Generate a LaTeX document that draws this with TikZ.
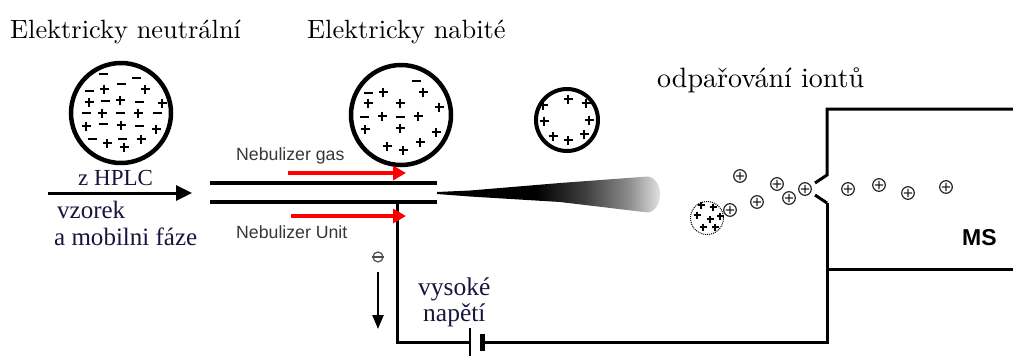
\documentclass[tikz,border=0pt]{standalone}
\usepackage{fontspec}
\newfontfamily\headfont{lmroman10-regular.otf}
\newfontfamily\serifnarrow{Liberation Serif}
\newfontfamily\labelsans{Liberation Sans}
\usetikzlibrary{arrows.meta}

% spray cone leaving the capillary: solid black, then fading out
% (the path's extent is mapped onto 25bp..75bp of the shading)
\pgfdeclarehorizontalshading{spray}{100bp}{color(0bp)=(black); color(47bp)=(black); color(58bp)=(black!76); color(68bp)=(black!45); color(75bp)=(black!12); color(100bp)=(black!12)}

\definecolor{inkblue}{RGB}{22,22,60}
\definecolor{labelgray}{RGB}{55,55,55}

\tikzset{
  droplet/.style={circle, draw, line width=#1, inner sep=0pt},
  title/.style={anchor=base west, inner sep=0pt, font=\headfont\fontsize{26.4bp}{30bp}\selectfont},
  note/.style={anchor=base west, inner sep=0pt, text=inkblue, font=\serifnarrow\fontsize{25bp}{28bp}\selectfont},
  gaslabel/.style={anchor=base west, inner sep=0pt, text=labelgray, font=\labelsans\fontsize{17.7bp}{20bp}\selectfont},
  tube/.style={line width=4bp},
  gasflow/.style={red, line width=3.5bp, -{Triangle[length=13bp,width=14bp]}},
  wire/.style={line width=3bp},
  pls/.pic={\draw[line width=1.9bp] (-4.5,0) -- (4.5,0) (0,-4.5) -- (0,4.5);},
  mns/.pic={\draw[line width=1.9bp] (-4.5,0) -- (4.5,0);},
  spls/.pic={\draw[line width=1.3bp] (-3.5,0) -- (3.5,0) (0,-3.5) -- (0,3.5);},
  ion/.pic={\draw[line width=1.2bp, black!85] (0,0) circle (6.3) (-4.2,0) -- (4.2,0) (0,-4.2) -- (0,4.2);}
}

\begin{document}
\begin{tikzpicture}[x=1bp, y=-1bp]
\useasboundingbox (0,0) rectangle (1013,356);

% headings
\node[title] (neutral) at (10,38) {Elektricky neutrální};
\node[title] (charged) at (307,38) {Elektricky nabité};
\node[title, font=\headfont\fontsize{28bp}{32bp}\selectfont] (evap) at (657,87) {odpařování iontů};

% neutral droplet: mixed charges
\node[droplet=4.5bp, minimum size=100bp] (d1) at (121,113) {};
\foreach \x/\y in {103/74,121/84,136/78,89/91,105/101,139/102,86/113,120/113,157/113,103/124,139/126,92/139,122/139}
  \pic at (\x,\y) {mns};
\foreach \x/\y in {104/89,145/89,89/102,120/100,162/103,102/113,138/113,86/126,121/125,156/129,107/143,124/147,141/139}
  \pic at (\x,\y) {pls};

% charged droplet: excess of positive charges
\node[droplet=4.5bp, minimum size=100bp] (d2) at (401,115) {};
\foreach \x/\y in {416/81,368/93,364/117,400/117}
  \pic at (\x,\y) {mns};
\foreach \x/\y in {423/92,383/92,368/103,400/103,439/107,382/116,418/116,365/129,400/128,436/132,387/146,403/150,420/142}
  \pic at (\x,\y) {pls};

% shrunken droplet: positive charges on the surface
\node[droplet=4bp, minimum size=62bp] (d3) at (567,120) {};
\foreach \x/\y in {543/105,568/99,586/103,544/121,589/120,553/136,568/140,584/134}
  \pic at (\x,\y) {pls};

% nebulizer capillary
\coordinate (tubeTL) at (210,183);
\coordinate (tubeTR) at (437,183);
\coordinate (tubeBL) at (210,202);
\coordinate (tubeBR) at (437,202);
\draw[tube] (tubeTL) -- (tubeTR);
\draw[tube] (tubeBL) -- (tubeBR);

% sample inlet
\coordinate (hplc) at (48,193);
\coordinate (inlet) at (192,193);
\draw[line width=3bp, -{Triangle[length=16bp,width=15bp]}] (hplc) -- (inlet);
\node[note, font=\serifnarrow\fontsize{23bp}{26bp}\selectfont] (zhplc) at (78,185) {z HPLC};
\node[note] (vzorek) at (57,218) {vzorek};
\node[note] (mobil) at (54,245) {a mobilni fáze};

% spray
\shade[shading=spray] (437,192) -- (470,190.5) -- (560,183) -- (648,176.5)
  .. controls (656,178) and (660,186) .. (660,194)
  .. controls (660,203) and (656,211) .. (648,212.5)
  -- (560,202) -- (470,196.5) -- (437,194) -- cycle;

% high-voltage circuit
\coordinate (tap) at (397,202);
\coordinate (cornerL) at (397,342);
\coordinate (batL) at (470,342);
\coordinate (batR) at (482,342);
\coordinate (cornerR) at (827,342);
\coordinate (coneLow) at (827,203);
\draw[wire] (tap) -- (cornerL) -- (batL);
\draw[line width=2.6bp] (470,328) -- (470,356);
\draw[line width=5bp] (482,334) -- (482,351);
\draw[wire] (batR) -- (cornerR) -- (coneLow);

% gas flows
\coordinate (gasA) at (288,173);
\coordinate (gasB) at (406,173);
\coordinate (unitA) at (291,216);
\coordinate (unitB) at (406,216);
\draw[gasflow] (gasA) -- (gasB);
\draw[gasflow] (unitA) -- (unitB);
\node[gaslabel] (gaslbl) at (236,160) {Nebulizer gas};
\node[gaslabel] (unitlbl) at (236,238) {Nebulizer Unit};

% electron flow
\node[circle, draw=black!70, line width=1.2bp, minimum size=10bp, inner sep=0pt] (elec) at (378,257) {};
\draw[black!70, line width=1.2bp] (elec.west) -- (elec.east);
\coordinate (eA) at (378,272);
\coordinate (eB) at (378,329);
\draw[line width=2.5bp, -{Triangle[length=14bp,width=11bp]}] (eA) -- (eB);

\node[note, font=\serifnarrow\fontsize{25.5bp}{30bp}\selectfont, text depth=0pt] (hv1) at (418,295) {vysoké};
\node[note, font=\serifnarrow\fontsize{25.5bp}{30bp}\selectfont, text height=16bp] (hv2) at (423,321) {napětí};

% mass spectrometer inlet
\coordinate (msTR) at (1013,109);
\coordinate (msTL) at (827,109);
\coordinate (coneUp) at (827,175);
\coordinate (lipUp) at (815,183);
\coordinate (lipLow) at (815,195);
\coordinate (msBL) at (827,269);
\coordinate (msBR) at (1013,269);
\draw[wire, line join=miter] (msTR) -- (msTL) -- (coneUp) -- (lipUp);
\draw[wire] (lipLow) -- (coneLow);
\draw[wire] (msBL) -- (msBR);
\node[anchor=base west, inner sep=0pt, font=\labelsans\bfseries\fontsize{23bp}{26bp}\selectfont] (ms) at (962,245) {MS};

% Coulomb fission and free ions
\node[circle, draw, densely dotted, line width=1bp, minimum size=33bp, inner sep=0pt] (d4) at (707,218) {};
\foreach \x/\y in {701/205,713/207,697/215,710/219,720/216,703/227,715/227}
  \pic at (\x,\y) {spls};
\foreach \x/\y in {730/210,740/176,757/202,777/184,789/198,805/189,848/189,879/185,908/193,946/187}
  \pic at (\x,\y) {ion};
\end{tikzpicture}
\end{document}
